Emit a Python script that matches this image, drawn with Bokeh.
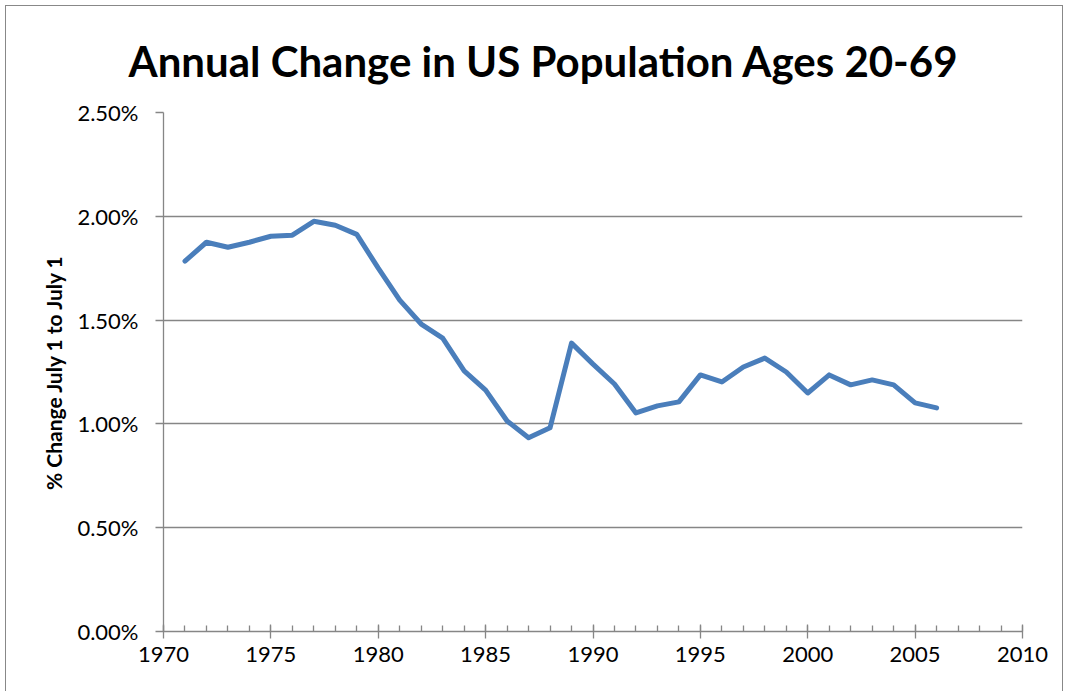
from bokeh.plotting import figure
from bokeh.models import ColumnDataSource, Range1d, FixedTicker, PrintfTickFormatter
from bokeh.embed import file_html
from bokeh.resources import INLINE

title_text = "Annual Change in US Population Ages 20-69"
years = list(range(1971, 2007))
pct_change = [1.784, 1.875, 1.851, 1.875, 1.904, 1.909, 1.976, 1.957, 1.913, 1.750,
              1.596, 1.481, 1.413, 1.255, 1.163, 1.014, 0.933, 0.981, 1.389, 1.288,
              1.192, 1.053, 1.087, 1.106, 1.236, 1.202, 1.274, 1.317, 1.250, 1.149,
              1.236, 1.188, 1.212, 1.188, 1.101, 1.077]
x_ticks = [1970, 1975, 1980, 1985, 1990, 1995, 2000, 2005, 2010]
y_ticks = [0, 0.5, 1.0, 1.5, 2.0, 2.5]

src = ColumnDataSource(dict(x=years, y=pct_change))

p = figure(width=1058, height=690, output_backend="svg", toolbar_location=None,
           x_range=Range1d(1970, 2010), y_range=Range1d(0, 2.5),
           min_border_left=157, min_border_right=42, min_border_top=105, min_border_bottom=65,
           title=title_text)
p.styles = {"border": "1px solid #888888", "margin": "5px 0 0 5px"}
p.outline_line_color = None
p.background_fill_color = "white"

p.title.text_font = "Lato"
p.title.text_font_size = "42px"
p.title.text_font_style = "bold"
p.title.align = "left"
p.title.offset = -35
p.title.standoff = 54
p.title.text_color = "black"

grey = "#868686"
p.xgrid.grid_line_color = None
p.ygrid.grid_line_color = grey
p.ygrid.grid_line_width = 1.3

xa = p.xaxis[0]
xa.ticker = FixedTicker(ticks=x_ticks, minor_ticks=list(range(1970, 2011)))
xa.axis_line_color = grey
xa.axis_line_width = 1.3
xa.major_tick_line_color = grey
xa.major_tick_line_width = 1.3
xa.major_tick_in = 7
xa.major_tick_out = 7
xa.minor_tick_line_color = grey
xa.minor_tick_line_width = 1.3
xa.minor_tick_in = 6
xa.minor_tick_out = 0
xa.major_label_text_font = "Lato"
xa.major_label_text_font_size = "22px"
xa.major_label_text_color = "black"
xa.major_label_standoff = 8

ya = p.yaxis[0]
ya.ticker = FixedTicker(ticks=y_ticks, minor_ticks=[])
ya.formatter = PrintfTickFormatter(format="%.2f%%")
ya.axis_line_color = grey
ya.axis_line_width = 1.3
ya.major_tick_line_color = grey
ya.major_tick_line_width = 1.3
ya.major_tick_in = 0
ya.major_tick_out = 8
ya.minor_tick_line_color = None
ya.major_label_text_font = "Lato"
ya.major_label_text_font_size = "22px"
ya.major_label_text_color = "black"
ya.major_label_standoff = 17
ya.axis_label = "% Change July 1 to July 1"
ya.axis_label_text_font = "Lato"
ya.axis_label_text_font_size = "21px"
ya.axis_label_text_font_style = "bold"
ya.axis_label_text_color = "black"
ya.axis_label_standoff = 8

p.line("x", "y", source=src, line_color="#4A7EBB", line_width=5, line_join="round", line_cap="round")

open("out.html", "w").write(file_html(p, INLINE))
